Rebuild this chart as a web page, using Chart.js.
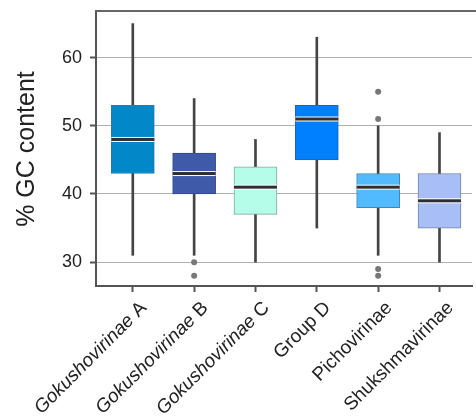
<!DOCTYPE html>
<html>
<head>
<meta charset="utf-8">
<script src="https://cdn.jsdelivr.net/npm/chart.js@4/dist/chart.umd.min.js"></script>
<style>
  html, body { margin: 0; padding: 0; background: #fff; }
  #wrap { width: 476px; height: 419px; }
</style>
</head>
<body>
<div id="wrap"><canvas id="c" width="476" height="419"></canvas></div>
<script>
// Viral groups and their GC-content distributions (box-plot summaries)
const categories = ['Gokushovirinae A', 'Gokushovirinae B', 'Gokushovirinae C', 'Group D', 'Pichovirinae', 'Shukshmavirinae'];
const italicPrefix = 'Gokushovirinae';
const whiskerLow = [31, 31, 30, 35, 31, 30];
const q1 = [43, 40, 37, 45, 38, 35];
const median = [48, 43, 41, 51, 41, 39];
const q3 = [53, 46, 44, 53, 43, 43];
const whiskerHigh = [65, 54, 48, 63, 50, 49];
const outliers = [[], [30, 28], [], [], [55, 51, 29, 28], []];
const yTicks = [30, 40, 50, 60];

const boxFill = ['#0288c9', '#3f5aa8', '#b5fde8', '#0080ff', '#52baff', '#a8bff5'];
const boxEdge = ['#2a7aa8', '#34488a', '#7fa89b', '#1f63b8', '#3f86bb', '#6f82ab'];

const FONT = "'Liberation Sans', Arial, sans-serif";

const boxData = categories.map((_, i) => ({ x: i, y: [q1[i], q3[i]] }));
const whiskerData = categories.map((_, i) => ({ x: i, y: [whiskerLow[i], whiskerHigh[i]] }));
const outlierData = [];
outliers.forEach((list, i) => list.forEach(v => outlierData.push({ x: i, y: v })));

// medians, frame top edge, axis title and the mixed-style category labels
const extras = {
  id: 'extras',
  afterDatasetsDraw(chart) {
    const { ctx, scales: { x, y } } = chart;
    ctx.save();
    const half = 21.5;
    median.forEach((m, i) => {
      const px = x.getPixelForValue(i);
      const py = y.getPixelForValue(m);
      ctx.fillStyle = '#ffffff';
      ctx.fillRect(px - half, py - 2.5, half * 2, 5);
      ctx.fillStyle = '#2f2f2f';
      ctx.fillRect(px - half, py - 1.5, half * 2, 3);
    });
    ctx.restore();
  },
  afterDraw(chart) {
    const { ctx, chartArea, scales: { x } } = chart;
    ctx.save();
    // top edge of the frame
    ctx.strokeStyle = '#666';
    ctx.lineWidth = 2;
    ctx.beginPath();
    ctx.moveTo(chartArea.left - 1, chartArea.top - 1);
    ctx.lineTo(chart.width, chartArea.top - 1);
    ctx.stroke();

    // y axis title
    ctx.fillStyle = '#222';
    ctx.font = '25px ' + FONT;
    ctx.textAlign = 'center';
    ctx.textBaseline = 'middle';
    ctx.translate(27, (chartArea.top + chartArea.bottom) / 2);
    ctx.rotate(-Math.PI / 2);
    ctx.fillText('% GC content', 0, 0);
    ctx.restore();

    // rotated category labels, genus-like part in italics
    categories.forEach((name, i) => {
      let ital = '', rom = name;
      if (name.startsWith(italicPrefix)) {
        ital = italicPrefix;
        rom = name.slice(italicPrefix.length);
      }
      const px = x.getPixelForValue(i);
      ctx.save();
      ctx.translate(px + 11, chartArea.bottom + 19);
      ctx.rotate(-Math.PI / 4);
      ctx.fillStyle = '#222';
      ctx.textBaseline = 'middle';
      ctx.textAlign = 'right';
      ctx.font = '19px ' + FONT;
      const rw = ctx.measureText(rom).width;
      ctx.fillText(rom, 0, 0);
      if (ital) {
        ctx.font = 'italic 19px ' + FONT;
        ctx.fillText(ital, -rw, 0);
      }
      ctx.restore();
    });
  }
};

new Chart(document.getElementById('c'), {
  type: 'bar',
  data: {
    datasets: [
      {
        type: 'scatter',
        data: outlierData,
        pointRadius: 3,
        pointBackgroundColor: '#777',
        pointBorderWidth: 0,
        order: 0
      },
      {
        data: boxData,
        backgroundColor: boxFill,
        borderColor: boxEdge,
        borderWidth: 1,
        borderSkipped: false,
        barThickness: 43,
        grouped: false,
        order: 1
      },
      {
        data: whiskerData,
        backgroundColor: '#444',
        borderWidth: 0,
        barThickness: 2,
        grouped: false,
        order: 2
      }
    ]
  },
  options: {
    responsive: false,
    animation: false,
    layout: { padding: { top: 12, right: 0, left: 0, bottom: 0 } },
    plugins: { legend: { display: false }, tooltip: { enabled: false } },
    scales: {
      x: {
        type: 'linear',
        offset: false,
        min: -0.6,
        max: 5.53,
        afterBuildTicks: s => { s.ticks = categories.map((_, i) => ({ value: i })); },
        afterFit: s => { s.height = 133; s.paddingLeft = 0; s.paddingRight = 0; },
        ticks: { callback: () => '', padding: 0 },
        grid: { offset: false, drawOnChartArea: false, tickLength: 6, tickColor: '#555', tickWidth: 2 },
        border: { color: '#555', width: 2 }
      },
      y: {
        min: 26.5,
        max: 66.7,
        afterBuildTicks: s => { s.ticks = yTicks.map(v => ({ value: v })); },
        afterFit: s => { s.width = 96; s.paddingTop = 0; s.paddingBottom = 0; },
        ticks: { color: '#222', font: { family: FONT, size: 18 }, padding: 8 },
        grid: { color: '#b0b0b0', lineWidth: 1, tickLength: 6, tickColor: '#555', tickWidth: 2 },
        border: { color: '#555', width: 2 }
      }
    }
  },
  plugins: [extras]
});
</script>
</body>
</html>
